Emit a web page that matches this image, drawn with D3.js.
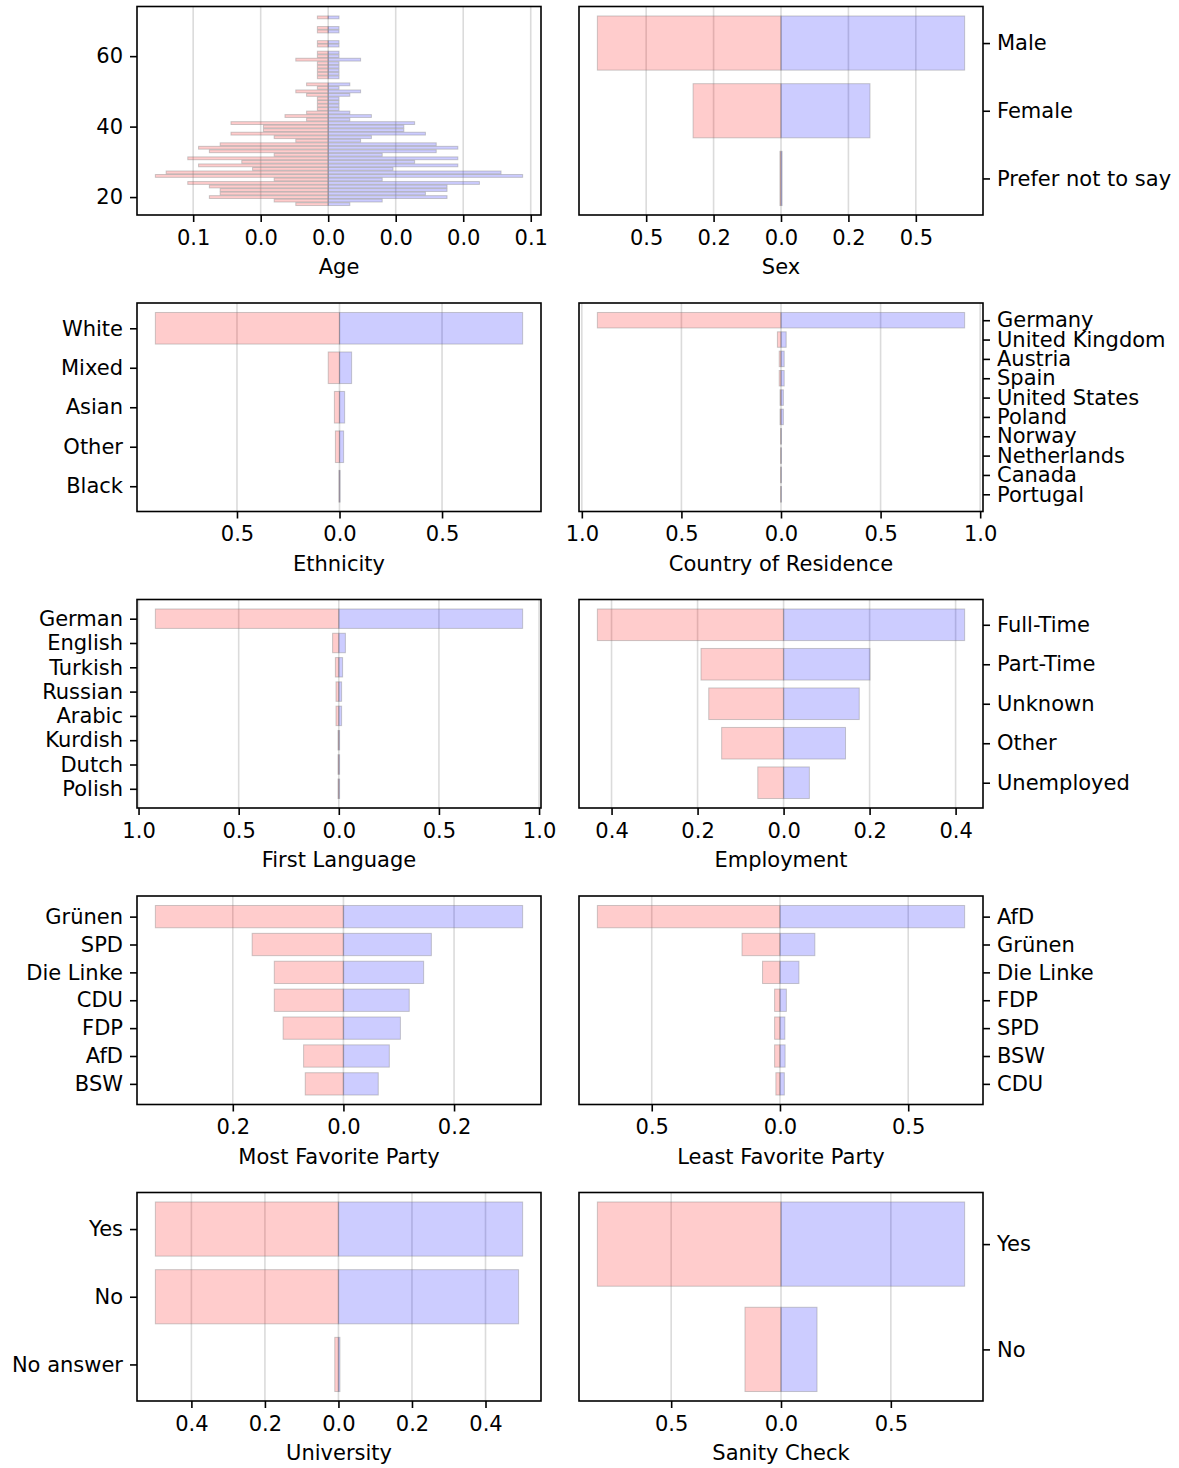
<!DOCTYPE html>
<html lang="en">
<head>
<meta charset="UTF-8">
<title>Survey pyramids</title>
<script src="https://d3js.org/d3.v7.min.js"></script>
<style>
    body { margin: 0; background: #fff; }
    text { font-family: "DejaVu Sans", sans-serif; fill: #000; }
</style>
</head>
<body>
<script>
    // ---- data (left = red side, right = blue side, both as shares) ----
    const ageYears = [18, 19, 20, 21, 22, 23, 24, 25, 26, 27, 28, 29, 30, 31, 32, 33, 34, 35, 36, 37,
        38, 39, 40, 41, 42, 43, 44, 45, 46, 47, 48, 49, 50, 51, 52, 54, 55, 56, 57, 58, 59, 60, 61, 63, 64, 67, 68, 71];
    const ageLeft = [0.012, 0.020, 0.044, 0.040, 0.040, 0.044, 0.052, 0.020, 0.064, 0.060, 0.028, 0.048, 0.032, 0.052,
        0.020, 0.044, 0.048, 0.040, 0.012, 0.020, 0.036, 0.024, 0.024, 0.036, 0.008, 0.016, 0.008, 0.004, 0.004, 0.004,
        0.004, 0.008, 0.012, 0.004, 0.008, 0.004, 0.004, 0.004, 0.004, 0.004, 0.012, 0.004, 0.004, 0.004, 0.004, 0.004,
        0.004, 0.004];
    const ageRight = [0.008, 0.020, 0.044, 0.036, 0.044, 0.044, 0.056, 0.020, 0.072, 0.064, 0.024, 0.048, 0.032, 0.048,
        0.020, 0.040, 0.048, 0.040, 0.012, 0.016, 0.036, 0.028, 0.028, 0.032, 0.008, 0.016, 0.008, 0.004, 0.004, 0.004,
        0.004, 0.008, 0.012, 0.004, 0.008, 0.004, 0.004, 0.004, 0.004, 0.004, 0.012, 0.004, 0.004, 0.004, 0.004, 0.004,
        0.004, 0.004];
    const ageYTicks = [20, 40, 60];
    const ageXTicks = [-0.05, -0.025, 0, 0.025, 0.05, 0.075];
    const ageXLabels = ["0.1", "0.0", "0.0", "0.0", "0.0", "0.1"];

    const sexCats = ["Male", "Female", "Prefer not to say"];
    const sexLeft = [0.681, 0.326, 0.004];
    const sexRight = [0.681, 0.330, 0.004];
    const sexTicks = [-0.5, -0.25, 0, 0.25, 0.5];
    const sexLabels = ["0.5", "0.2", "0.0", "0.2", "0.5"];

    const ethCats = ["White", "Mixed", "Asian", "Other", "Black"];
    const ethLeft = [0.898, 0.055, 0.025, 0.020, 0.003];
    const ethRight = [0.893, 0.059, 0.025, 0.020, 0.003];
    const ethTicks = [-0.5, 0, 0.5];
    const ethLabels = ["0.5", "0.0", "0.5"];

    const countryCats = ["Germany", "United Kingdom", "Austria", "Spain", "United States", "Poland",
        "Norway", "Netherlands", "Canada", "Portugal"];
    const countryLeft = [0.922, 0.018, 0.009, 0.009, 0.005, 0.005, 0.002, 0.002, 0.002, 0.002];
    const countryRight = [0.922, 0.026, 0.016, 0.016, 0.012, 0.012, 0.002, 0.002, 0.002, 0.002];
    const countryTicks = [-1, -0.5, 0, 0.5, 1];
    const countryLabels = ["1.0", "0.5", "0.0", "0.5", "1.0"];

    const langCats = ["German", "English", "Turkish", "Russian", "Arabic", "Kurdish", "Dutch", "Polish"];
    const langLeft = [0.916, 0.031, 0.017, 0.014, 0.014, 0.004, 0.004, 0.004];
    const langRight = [0.918, 0.033, 0.019, 0.014, 0.014, 0.004, 0.004, 0.004];
    const langTicks = [-1, -0.5, 0, 0.5, 1];
    const langLabels = ["1.0", "0.5", "0.0", "0.5", "1.0"];

    const empCats = ["Full-Time", "Part-Time", "Unknown", "Other", "Unemployed"];
    const empLeft = [0.433, 0.192, 0.174, 0.144, 0.060];
    const empRight = [0.421, 0.201, 0.176, 0.144, 0.060];
    const empTicks = [-0.4, -0.2, 0, 0.2, 0.4];
    const empLabels = ["0.4", "0.2", "0.0", "0.2", "0.4"];

    const favCats = ["Grünen", "SPD", "Die Linke", "CDU", "FDP", "AfD", "BSW"];
    const favLeft = [0.340, 0.165, 0.125, 0.125, 0.109, 0.072, 0.069];
    const favRight = [0.324, 0.159, 0.145, 0.119, 0.103, 0.083, 0.063];
    const favTicks = [-0.2, 0, 0.2];
    const favLabels = ["0.2", "0.0", "0.2"];

    const leastCats = ["AfD", "Grünen", "Die Linke", "FDP", "SPD", "BSW", "CDU"];
    const leastLeft = [0.712, 0.148, 0.068, 0.021, 0.021, 0.021, 0.016];
    const leastRight = [0.720, 0.136, 0.074, 0.025, 0.019, 0.020, 0.017];
    const leastTicks = [-0.5, 0, 0.5];
    const leastLabels = ["0.5", "0.0", "0.5"];

    const uniCats = ["Yes", "No", "No answer"];
    const uniLeft = [0.498, 0.498, 0.010];
    const uniRight = [0.501, 0.490, 0.004];
    const uniTicks = [-0.4, -0.2, 0, 0.2, 0.4];
    const uniLabels = ["0.4", "0.2", "0.0", "0.2", "0.4"];

    const sanityCats = ["Yes", "No"];
    const sanityLeft = [0.836, 0.164];
    const sanityRight = [0.836, 0.164];
    const sanityTicks = [-0.5, 0, 0.5];
    const sanityLabels = ["0.5", "0.0", "0.5"];

    // ---- layout ----
    const width = 1179, height = 1468;
    const colX = [137, 579];
    const rowTop = 6.5, rowStep = 296.5;
    const pw = 404, ph = 208.5;
    const fontSize = 21;

    const svg = d3.select("body").append("svg")
        .attr("width", width)
        .attr("height", height);

    function panel(o) {
        const g = svg.append("g")
            .attr("transform", `translate(${colX[o.col]},${rowTop + o.row * rowStep})`);

        // x scale with matplotlib-like 5% margins
        const lo = -d3.max(o.left), hi = d3.max(o.right);
        const xm = (hi - lo) * 0.05;
        const x = d3.scaleLinear().domain([lo - xm, hi + xm]).range([0, pw]);

        // y scale: numeric (age) or category index
        let y, pos;
        if (o.years) {
            const ylo = d3.min(o.years) - 0.4, yhi = d3.max(o.years) + 0.4;
            const ym = (yhi - ylo) * 0.05;
            y = d3.scaleLinear().domain([ylo - ym, yhi + ym]).range([ph, 0]);
            pos = o.years;
        } else {
            const n = o.cats.length;
            const ym = (n - 1 + 0.8) * 0.05;
            y = d3.scaleLinear().domain([-0.4 - ym, n - 0.6 + ym]).range([0, ph]);
            pos = o.cats.map((c, i) => i);
        }
        const bh = Math.abs(y(0.8) - y(0));

        // grid
        g.selectAll("line.grid")
            .data(o.ticks)
            .join("line")
            .attr("x1", d => x(d)).attr("x2", d => x(d))
            .attr("y1", 0).attr("y2", ph)
            .attr("stroke", "#b0b0b0")
            .attr("stroke-opacity", 0.45)
            .attr("stroke-width", 1.6);

        // bars
        g.selectAll("rect.left")
            .data(o.left)
            .join("rect")
            .attr("x", d => x(-d))
            .attr("width", d => x(0) - x(-d))
            .attr("y", (d, i) => y(pos[i]) - bh / 2)
            .attr("height", bh)
            .attr("fill", "red").attr("fill-opacity", 0.2)
            .attr("stroke", "grey").attr("stroke-opacity", 0.4).attr("stroke-width", 1);

        g.selectAll("rect.right")
            .data(o.right)
            .join("rect")
            .attr("x", x(0))
            .attr("width", d => x(d) - x(0))
            .attr("y", (d, i) => y(pos[i]) - bh / 2)
            .attr("height", bh)
            .attr("fill", "blue").attr("fill-opacity", 0.2)
            .attr("stroke", "grey").attr("stroke-opacity", 0.4).attr("stroke-width", 1);

        // x axis
        const xa = g.append("g")
            .attr("transform", `translate(0,${ph})`)
            .call(d3.axisBottom(x)
                .tickValues(o.ticks)
                .tickFormat((d, i) => o.labels[i])
                .tickSize(7).tickPadding(8));

        // y axis
        let yAxis;
        if (o.years) {
            yAxis = d3.axisLeft(y).tickValues(o.yTicks).tickFormat(d3.format("d"));
        } else {
            yAxis = (o.side === "right" ? d3.axisRight(y) : d3.axisLeft(y))
                .tickValues(pos).tickFormat(i => o.cats[i]);
        }
        yAxis.tickSize(7).tickPadding(7);
        const ya = g.append("g")
            .attr("transform", o.side === "right" ? `translate(${pw},0)` : null)
            .call(yAxis);

        [xa, ya].forEach(a => {
            a.select(".domain").remove();
            a.attr("font-size", fontSize).attr("font-family", "DejaVu Sans");
            a.selectAll(".tick line").attr("stroke-width", 1.6);
        });

        // frame
        g.append("rect")
            .attr("width", pw).attr("height", ph)
            .attr("fill", "none")
            .attr("stroke", "#000")
            .attr("stroke-width", 1.6);

        // axis title
        g.append("text")
            .attr("x", pw / 2)
            .attr("y", ph + 59)
            .attr("text-anchor", "middle")
            .attr("font-size", fontSize)
            .text(o.title);
    }

    panel({col: 0, row: 0, title: "Age", years: ageYears, yTicks: ageYTicks, left: ageLeft, right: ageRight,
        ticks: ageXTicks, labels: ageXLabels, side: "left"});
    panel({col: 1, row: 0, title: "Sex", cats: sexCats, left: sexLeft, right: sexRight,
        ticks: sexTicks, labels: sexLabels, side: "right"});
    panel({col: 0, row: 1, title: "Ethnicity", cats: ethCats, left: ethLeft, right: ethRight,
        ticks: ethTicks, labels: ethLabels, side: "left"});
    panel({col: 1, row: 1, title: "Country of Residence", cats: countryCats, left: countryLeft, right: countryRight,
        ticks: countryTicks, labels: countryLabels, side: "right"});
    panel({col: 0, row: 2, title: "First Language", cats: langCats, left: langLeft, right: langRight,
        ticks: langTicks, labels: langLabels, side: "left"});
    panel({col: 1, row: 2, title: "Employment", cats: empCats, left: empLeft, right: empRight,
        ticks: empTicks, labels: empLabels, side: "right"});
    panel({col: 0, row: 3, title: "Most Favorite Party", cats: favCats, left: favLeft, right: favRight,
        ticks: favTicks, labels: favLabels, side: "left"});
    panel({col: 1, row: 3, title: "Least Favorite Party", cats: leastCats, left: leastLeft, right: leastRight,
        ticks: leastTicks, labels: leastLabels, side: "right"});
    panel({col: 0, row: 4, title: "University", cats: uniCats, left: uniLeft, right: uniRight,
        ticks: uniTicks, labels: uniLabels, side: "left"});
    panel({col: 1, row: 4, title: "Sanity Check", cats: sanityCats, left: sanityLeft, right: sanityRight,
        ticks: sanityTicks, labels: sanityLabels, side: "right"});
</script>
</body>
</html>
